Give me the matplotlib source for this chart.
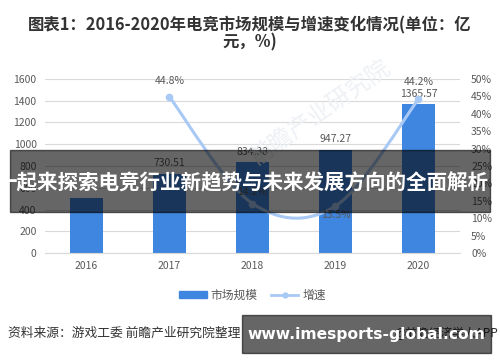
import numpy as np
import matplotlib
matplotlib.use('Agg')
import matplotlib.pyplot as plt
from matplotlib.path import Path
from matplotlib.patches import PathPatch, Rectangle
from matplotlib.lines import Line2D

plt.rcParams['font.family'] = ['Noto Sans CJK SC', 'DejaVu Sans']

years = ['2016', '2017', '2018', '2019', '2020']
market = [504.5, 730.51, 834.38, 947.27, 1365.57]
growth_years = [1, 2, 3, 4]
growth = [44.8, 14.2, 13.5, 44.2]
growth_labels = ['44.8%', '14.2%', '13.5%', '44.2%']

bar_color = '#3f86e0'
line_color = '#a9c9f5'
text_gray = '#595959'

fig = plt.figure(figsize=(5.0, 3.62), dpi=100)
ax = fig.add_axes([0.09, 0.301, 0.83, 0.481])
ax2 = ax.twinx()

x = np.arange(len(years))
ax.bar(x, market, 0.39, color=bar_color, zorder=2)
for xi, v in zip(x, market):
    if xi == 0:
        continue
    ax.annotate(f'{v:.2f}', (xi, v), xytext=(0, 4), textcoords='offset points',
                ha='center', va='bottom', fontsize=7.5, color=text_gray)

ax.set_xlim(-0.5, 4.5)
ax.set_ylim(0, 1600)
ax.set_yticks(range(0, 1601, 200))
ax.set_xticks(x)
ax.set_xticklabels(years)
ax.yaxis.grid(True, color='#d9d9d9', lw=0.8)
ax.set_axisbelow(True)
for s in ax.spines.values():
    s.set_visible(False)
ax.spines['bottom'].set_visible(True)
ax.spines['bottom'].set_color('#d9d9d9')
ax.tick_params(length=0, labelsize=7.5, colors=text_gray, pad=6)

# smoothed growth line (bezier through the points)
gx = np.array(growth_years, dtype=float)
gy = np.array(growth, dtype=float)
pts = np.column_stack([gx, gy])
verts = [pts[0]]
codes = [Path.MOVETO]
n = len(pts)
for i in range(n - 1):
    p0 = pts[max(i - 1, 0)]
    p1 = pts[i]
    p2 = pts[i + 1]
    p3 = pts[min(i + 2, n - 1)]
    c1 = p1 + (p2 - p0) / 6
    c2 = p2 - (p3 - p1) / 6
    verts += [c1, c2, p2]
    codes += [Path.CURVE4] * 3
ax2.add_patch(PathPatch(Path(verts, codes), fc='none', ec=line_color, lw=2.2, zorder=3))
ax2.plot(gx, gy, 'o', color=line_color, ms=4.5, zorder=4)
offsets = [(0, 8), (0, 5), (0, -3), (0, 9)]
for xi, yi, lab, off in zip(gx, gy, growth_labels, offsets):
    ax2.annotate(lab, (xi, yi), xytext=off, textcoords='offset points', ha='center',
                 va='bottom' if off[1] > 0 else 'top', fontsize=7.5, color=text_gray)
ax2.set_ylim(0, 50)
ax2.set_yticks(range(0, 51, 5))
ax2.set_yticklabels([f'{v}%' for v in range(0, 51, 5)])
for s in ax2.spines.values():
    s.set_visible(False)
ax2.tick_params(length=0, labelsize=7.5, colors=text_gray, pad=8)

# legend
handles = [Rectangle((0, 0), 1, 1, color=bar_color),
           Line2D([], [], color=line_color, lw=2, marker='o', ms=3.5)]
fig.legend(handles, ['市场规模', '增速'], loc='center', bbox_to_anchor=(0.505, 0.185),
           ncol=2, frameon=False, fontsize=8.5, handlelength=2.3, handleheight=0.5,
           columnspacing=1.2, handletextpad=0.3, labelcolor=text_gray)

# title
fig.text(0.5, 0.93, '图表1：2016-2020年电竞市场规模与增速变化情况(单位：亿',
         ha='center', va='center', fontsize=11.8, fontweight='bold', color='#333333')
fig.text(0.5, 0.883, '元，%)', ha='center', va='center', fontsize=11.8,
         fontweight='bold', color='#333333')

# faint watermark
fig.text(0.64, 0.69, '前瞻产业研究院', ha='center', va='center', fontsize=17,
         rotation=35, color='#eef1f5', zorder=0)

# source line
fig.text(0.016, 0.08, '资料来源：游戏工委 前瞻产业研究院整理', ha='left', va='center',
         fontsize=9.2, color='#333333')
fig.text(0.996, 0.08, '@前瞻经济学人APP', ha='right', va='center', fontsize=8.5,
         color='#333333')

# overlay band with headline
fig.patches.append(Rectangle((0.02, (362 - 212) / 362), 0.96, 62 / 362,
                             transform=fig.transFigure, color='black', alpha=0.6, zorder=10))
fig.text(0.484, (362 - 183) / 362, '一起来探索电竞行业新趋势与未来发展方向的全面解析',
         ha='center', va='center', fontsize=14.8, fontweight='bold', color='white', zorder=11)

# bottom site box
fig.patches.append(Rectangle((242 / 500, (362 - 353) / 362), 249 / 500, 38 / 362,
                             transform=fig.transFigure, color='black', alpha=0.6, zorder=10))
fig.text(366 / 500, (362 - 334) / 362, 'www.imesports-global.com', ha='center', va='center',
         fontsize=11.2, fontweight='bold', color='white', family='DejaVu Sans', zorder=11)

fig.savefig('out.png', dpi=100)
